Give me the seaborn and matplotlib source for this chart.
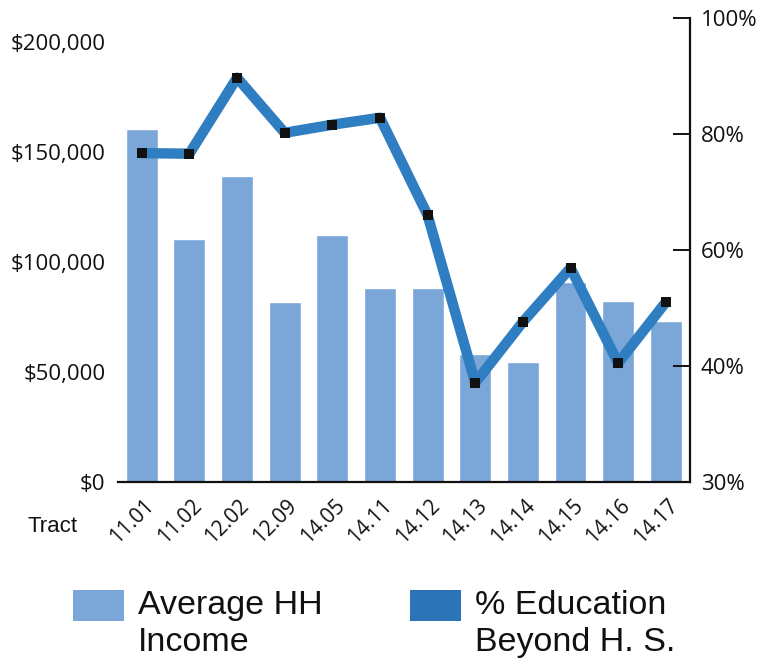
import numpy as np
import pandas as pd
import matplotlib
matplotlib.use("Agg")
import matplotlib.pyplot as plt
from matplotlib.patches import Rectangle
from matplotlib.transforms import ScaledTranslation
import seaborn as sns

# Census tracts
tracts = ["11.01", "11.02", "12.02", "12.09", "14.05", "14.11",
          "14.12", "14.13", "14.14", "14.15", "14.16", "14.17"]
# Average household income ($)
avg_income = [160500, 110500, 139000, 82000, 112500, 88000,
              88000, 58000, 54500, 91000, 82500, 73000]
# Share of residents with education beyond high school (%)
edu_beyond_hs = [76.7, 76.6, 89.7, 80.2, 81.6, 82.8,
                 66.0, 37.1, 47.6, 56.9, 40.5, 51.0]

income_ticks = [0, 50000, 100000, 150000, 200000]
income_tick_labels = ["$0", "$50,000", "$100,000", "$150,000", "$200,000"]
pct_ticks = [20, 40, 60, 80, 100]
pct_tick_labels = ["30%", "40%", "60%", "80%", "100%"]

bar_color = "#7aa6d8"
line_color = "#2f7ec2"
legend_dark = "#2b74b8"
ink = "#111111"

sns.set_style("white")
plt.rcParams["font.family"] = ["Open Sans", "DejaVu Sans"]

df = pd.DataFrame({"tract": tracts, "income": avg_income, "edu": edu_beyond_hs})

fig = plt.figure(figsize=(7.61, 6.71), dpi=100)
ax = fig.add_axes([0.155, 0.2817, 0.7512, 0.6915])

sns.barplot(data=df, x="tract", y="income", order=tracts, ax=ax,
            color=bar_color, saturation=1, width=0.67)
ax.set_xlim(-0.5, len(tracts) - 0.5)
ax.set_ylim(0, 211000)
ax.set_xlabel("")
ax.set_ylabel("")
ax.set_yticks(income_ticks)
ax.set_yticklabels(income_tick_labels, fontsize=16, color=ink)
ax.tick_params(axis="y", length=0, pad=9)

# category boundary ticks pointing up from the baseline
ax.set_xticks(np.arange(-0.5, len(tracts), 1), minor=True)
ax.tick_params(axis="x", which="minor", direction="in", length=6.5,
               width=1.4, color=ink)
ax.tick_params(axis="x", which="major", length=0, pad=2)
ax.set_xticks(range(len(tracts)))
ax.set_xticklabels(tracts, rotation=45, ha="right", va="center",
                   rotation_mode="anchor", fontsize=15, color=ink)
for lbl in ax.get_xticklabels():
    lbl.set_transform(lbl.get_transform()
                      + ScaledTranslation(0.09, -0.18, fig.dpi_scale_trans))

for side in ["left", "top", "right"]:
    ax.spines[side].set_visible(False)
ax.spines["bottom"].set_color(ink)
ax.spines["bottom"].set_linewidth(1.6)

ax2 = ax.twinx()
sns.lineplot(x=np.arange(len(tracts)), y=df["edu"], ax=ax2, color=line_color,
             linewidth=7.5, solid_joinstyle="round", solid_capstyle="butt",
             zorder=3)
sns.scatterplot(x=np.arange(len(tracts)), y=df["edu"], ax=ax2, marker="s",
                color=ink, s=55, linewidth=0, zorder=4)
ax2.set_ylim(20, 100)
ax2.set_ylabel("")
ax2.set_yticks(pct_ticks)
ax2.set_yticklabels(pct_tick_labels, fontsize=16, color=ink)
ax2.tick_params(axis="y", direction="in", length=12, width=1.4,
                color=ink, pad=8)
for side in ["left", "top", "bottom"]:
    ax2.spines[side].set_visible(False)
ax2.spines["right"].set_color(ink)
ax2.spines["right"].set_linewidth(1.6)
ax2.grid(False)
ax.grid(False)

fig.text(28 / 761, 1 - 527 / 671, "Tract", fontsize=16, va="center",
         ha="left", family=["Liberation Sans", "DejaVu Sans"], color=ink)

# legend: swatches with two-line labels
W, H = 761, 671
entries = [(73, bar_color, "Average HH\nIncome"),
           (410, legend_dark, "% Education\nBeyond H. S.")]
for x0, col, txt in entries:
    fig.add_artist(Rectangle((x0 / W, 1 - 621 / H), 51 / W, 31 / H,
                             transform=fig.transFigure, facecolor=col,
                             edgecolor="none"))
    fig.text((x0 + 65) / W, 1 - 590 / H, txt, fontsize=24.5, va="top",
             ha="left", linespacing=1.27,
             family=["Liberation Sans", "DejaVu Sans"], color=ink)

fig.savefig("out.png", dpi=100)
